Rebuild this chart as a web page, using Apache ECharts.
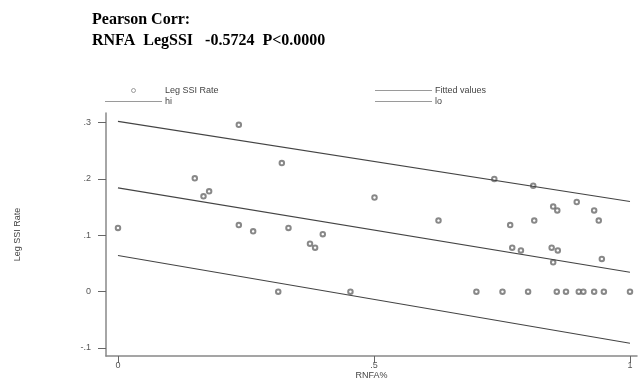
<!DOCTYPE html>
<html>
<head>
<meta charset="utf-8">
<script src="https://cdn.jsdelivr.net/npm/echarts@6/dist/echarts.min.js"></script>
<style>html,body{margin:0;padding:0;background:#fff;}#c{width:639px;height:381px;}</style>
</head>
<body>
<div id="c"></div>
<script>
// RNFA% (x) and Leg SSI Rate (y) observations
const rnfa = [0, .150, .167, .178, .236, .236, .264, .313, .320, .333, .375, .385, .400, .454, .501, .626, .700, .735, .751, .766, .770, .787, .801, .811, .813, .847, .850, .850, .857, .858, .859, .875, .896, .900, .909, .930, .930, .939, .945, .949, 1.0];
const legSSIRate = [.113, .201, .169, .178, .296, .118, .107, 0, .228, .113, .085, .078, .102, 0, .167, .126, 0, .200, 0, .118, .078, .073, 0, .188, .126, .078, .151, .052, 0, .144, .073, 0, .159, 0, 0, .144, 0, .126, .058, 0, 0];
// fitted line and bands, at RNFA = 0 and 1
const lineX = [0, 1];
const fittedValues = [.184, .0345];
const hiValues = [.302, .160];
const loValues = [.064, -.0917];
// axis ticks
const xTicks = [0, 0.5, 1];
const xTickLabels = ['0', '.5', '1'];
const yTicks = [-0.1, 0, 0.1, 0.2, 0.3];
const yTickLabels = ['-.1', '0', '.1', '.2', '.3'];

const pts = rnfa.map((x, i) => [x, legSSIRate[i]]);
const mk = ys => lineX.map((x, i) => [x, ys[i]]);
const fmt = (ticks, labels) => v => {
  for (let i = 0; i < ticks.length; i++) if (Math.abs(ticks[i] - v) < 1e-6) return labels[i];
  return '';
};
const lineStyle = { color: '#444', width: 1.1 };
const lab = { fontFamily: 'Liberation Sans', fontSize: 9, color: '#555' };
const barIcon = 'path://M0,0 L100,0 L100,2 L0,2 Z';
const smallCircleIcon = 'path://M0,0 M20,20 M15,10 A5,5 0 1,1 5,10 A5,5 0 1,1 15,10 Z';
const legLine = name => ({ name: name, icon: barIcon, itemStyle: { color: '#9a9a9a', borderWidth: 0 } });

const chart = echarts.init(document.getElementById('c'), null, { renderer: 'canvas' });
chart.setOption({
  animation: false,
  backgroundColor: '#fff',
  title: {
    text: 'Pearson Corr:\nRNFA  LegSSI   -0.5724  P<0.0000',
    left: 92, top: 9, padding: 0,
    textStyle: { fontFamily: 'Liberation Serif', fontWeight: 'bold', fontSize: 16, lineHeight: 21, color: '#000' }
  },
  legend: [
    {
      left: 105, top: 86, padding: 0, orient: 'vertical', itemWidth: 57, itemHeight: 8, itemGap: 2,
      textStyle: { fontFamily: 'Liberation Sans', fontSize: 9, color: '#444', padding: [0, 0, 0, -2] },
      data: [
        { name: 'Leg SSI Rate', icon: smallCircleIcon, itemStyle: { color: '#fff', borderColor: '#777', borderWidth: 0.9 } },
        legLine('hi')
      ]
    },
    {
      left: 375, top: 86, padding: 0, orient: 'vertical', itemWidth: 57, itemHeight: 8, itemGap: 2,
      textStyle: { fontFamily: 'Liberation Sans', fontSize: 9, color: '#444', padding: [0, 0, 0, -2] },
      data: [legLine('Fitted values'), legLine('lo')]
    }
  ],
  grid: { left: 106, right: 2, top: 113, bottom: 25, containLabel: false, outerBoundsMode: 'none' },
  xAxis: {
    type: 'value', min: -0.0234, max: 1.0137,
    name: 'RNFA%', nameLocation: 'middle', nameGap: 15, nameMoveOverlap: false,
    nameTextStyle: { fontFamily: 'Liberation Sans', fontSize: 9, color: '#444' },
    splitLine: { show: false },
    axisLine: { show: true, onZero: false, lineStyle: { color: '#888', width: 1.5 } },
    axisTick: { show: true, length: 7, customValues: xTicks, lineStyle: { color: '#666' } },
    axisLabel: Object.assign({ customValues: xTicks, margin: 5, formatter: fmt(xTicks, xTickLabels) }, lab)
  },
  yAxis: {
    type: 'value', min: -0.1142, max: 0.3169,
    name: 'Leg SSI Rate', nameLocation: 'middle', nameGap: 84, nameMoveOverlap: false,
    nameTextStyle: { fontFamily: 'Liberation Sans', fontSize: 9, color: '#444' },
    splitLine: { show: false },
    axisLine: { show: true, onZero: false, lineStyle: { color: '#888', width: 1.5 } },
    axisTick: { show: true, length: 8, customValues: yTicks, lineStyle: { color: '#666' } },
    axisLabel: Object.assign({ customValues: yTicks, margin: 15, formatter: fmt(yTicks, yTickLabels) }, lab)
  },
  series: [
    { name: 'Leg SSI Rate', type: 'scatter', data: pts, symbol: 'emptyCircle', symbolSize: 4.5,
      itemStyle: { color: '#6a6a6a', borderColor: '#6a6a6a', borderWidth: 0.8 } },
    { name: 'Fitted values', type: 'line', data: mk(fittedValues), symbol: 'none', lineStyle: lineStyle, itemStyle: { color: '#444' } },
    { name: 'hi', type: 'line', data: mk(hiValues), symbol: 'none', lineStyle: lineStyle, itemStyle: { color: '#444' } },
    { name: 'lo', type: 'line', data: mk(loValues), symbol: 'none', lineStyle: lineStyle, itemStyle: { color: '#444' } }
  ]
});
</script>
</body>
</html>
